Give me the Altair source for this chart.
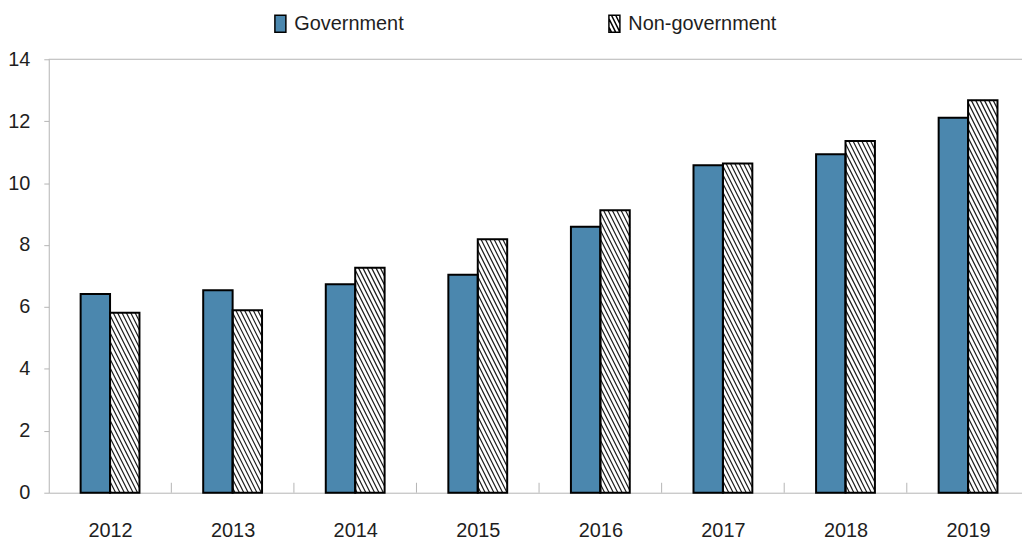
import altair as alt
import pandas as pd
import numpy as np

# ---------------- data ----------------
years = [2012, 2013, 2014, 2015, 2016, 2017, 2018, 2019]
government = [6.42, 6.54, 6.73, 7.04, 8.59, 10.58, 10.93, 12.11]
non_government = [5.81, 5.89, 7.27, 8.19, 9.12, 10.63, 11.36, 12.68]
series_names = ["Government", "Non-government"]
y_ticks = [0, 2, 4, 6, 8, 10, 12, 14]

# ---------------- layout / style ----------------
FONT = "Liberation Sans"
FS = 20
BLUE = "#4b87ae"
GRAY = "#b4b4b4"
TXT = "#1e1e1e"
PLOT_W = 979
PLOT_H = 436
PX_PER_YEAR = 123.3
X_MIN = years[0] - 0.5
X_MAX = X_MIN + PLOT_W / PX_PER_YEAR
Y_MAX = y_ticks[-1]
PX_PER_UNIT = PLOT_H / Y_MAX
BAR_W = 0.24  # in year units

# bars table
rows = []
for yr, g, n in zip(years, government, non_government):
    rows.append({"year": yr, "series": series_names[0], "value": g,
                 "x0": yr - BAR_W, "x1": yr})
    rows.append({"year": yr, "series": series_names[1], "value": n,
                 "x0": yr, "x1": yr + BAR_W})
bars = pd.DataFrame(rows)

# hatch segments for non-government bars (derived from the values)
STEP = 4.4      # px horizontal spacing
SLOPE = 2.0     # px down per px right
hatch_rows = []
W = BAR_W * PX_PER_YEAR
for yr, v in zip(years, non_government):
    H = v * PX_PER_UNIT
    s = W
    while s > -H / SLOPE:
        p0 = max(0.0, -SLOPE * s)
        p1 = min(H, SLOPE * (W - s))
        if p1 > p0:
            hatch_rows.append({
                "x0": yr + (s + p0 / SLOPE) / PX_PER_YEAR,
                "x1": yr + (s + p1 / SLOPE) / PX_PER_YEAR,
                "value": v - p0 / PX_PER_UNIT,
                "v1": v - p1 / PX_PER_UNIT,
            })
        s -= STEP
hatch = pd.DataFrame(hatch_rows)

bounds = pd.DataFrame({"x0": [y + 0.5 for y in years[:-1]]})
top = pd.DataFrame({"value": [Y_MAX]})
legend_df = pd.DataFrame({"series": series_names})


# legend symbol paths
def rect_path(hw=0.65, hh=1.0):
    return f"M{-hw},{-hh}H{hw}V{hh}H{-hw}Z"


def hatched_path(hw=0.65, hh=1.0, step=0.5, slope=2.0):
    p = rect_path(hw, hh)
    s = hw
    while s > -hw - 2 * hh / slope:
        xa = max(-hw, s)
        xb = min(hw, s + 2 * hh / slope)
        if xb > xa:
            ya = -hh + slope * (xa - s)
            yb = -hh + slope * (xb - s)
            p += f"M{xa:.3f},{ya:.3f}L{xb:.3f},{yb:.3f}"
        s -= step
    return p


x_scale = alt.Scale(domain=[X_MIN, X_MAX], nice=False, zero=False)
y_scale = alt.Scale(domain=[0, Y_MAX], nice=False)

x_axis = alt.Axis(values=years, format="d", ticks=False, tickSize=0,
                  domainColor=GRAY, domainWidth=1, grid=False,
                  labelFont=FONT, labelFontSize=FS, labelColor=TXT,
                  labelPadding=28, title=None)
y_axis = alt.Axis(values=y_ticks, tickSize=5, tickColor=GRAY, domainColor=GRAY,
                  grid=False, labelFont=FONT, labelFontSize=FS, labelColor=TXT,
                  labelPadding=14, title=None)

X = alt.X("x0:Q", scale=x_scale, axis=x_axis)
Y = alt.Y("value:Q", scale=y_scale, axis=y_axis)

base_fill = alt.Chart(bars).mark_rect().encode(
    x=X,
    x2="x1:Q",
    y=Y,
    y2=alt.datum(0),
    fill=alt.condition(alt.datum.series == series_names[0],
                       alt.value(BLUE), alt.value("white")),
)

hatch_layer = alt.Chart(hatch).mark_rule(color="#1a1a1a", strokeWidth=1.2).encode(
    x=X,
    x2="x1:Q",
    y=Y,
    y2="v1:Q",
)

outline = alt.Chart(bars).mark_rect(fillOpacity=0, stroke="black", strokeWidth=2).encode(
    x=X,
    x2="x1:Q",
    y=Y,
    y2=alt.datum(0),
)

ticks = alt.Chart(bounds).mark_rule(color=GRAY, strokeWidth=1).encode(
    x=X,
    y=alt.value(PLOT_H),
    y2=alt.value(PLOT_H - 10),
)

top_line = alt.Chart(top).mark_rule(color=GRAY, strokeWidth=1).encode(
    x=alt.value(0),
    x2=alt.value(PLOT_W),
    y=Y,
)

leg = alt.Legend(title=None, orient="none", legendX=223, legendY=-46,
                 direction="horizontal", columns=2, columnPadding=201,
                 labelFont=FONT, labelFontSize=FS, labelColor=TXT, labelLimit=400,
                 labelOffset=4, symbolSize=289, symbolStrokeWidth=1.5, symbolOpacity=1)

legend_layer = alt.Chart(legend_df).mark_point(
    filled=True, opacity=0, strokeWidth=1.5
).encode(
    fill=alt.Fill("series:N", scale=alt.Scale(domain=series_names, range=[BLUE, "white"]),
                  legend=leg),
    stroke=alt.Stroke("series:N", scale=alt.Scale(domain=series_names, range=["black", "black"]),
                      legend=leg),
    shape=alt.Shape("series:N", scale=alt.Scale(domain=series_names,
                                                range=[rect_path(), hatched_path()]),
                    legend=leg),
)

chart = alt.layer(base_fill, hatch_layer, outline, ticks, top_line, legend_layer).properties(
    width=PLOT_W,
    height=PLOT_H,
    padding={"left": 41, "top": 50, "right": 0, "bottom": 47},
    autosize=alt.AutoSizeParams(type="none"),
).configure_view(stroke="transparent")

chart.save("out.html", embed_options={"renderer": "svg", "actions": False})
